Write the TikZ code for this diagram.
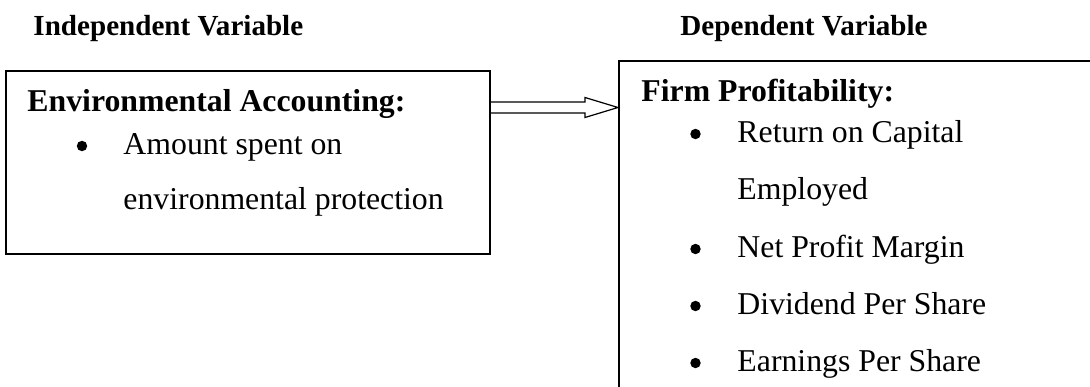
\documentclass[tikz,border=0pt]{standalone}
\usepackage{fontspec}
\setmainfont{Liberation Serif}
\usepackage{tikz}
\usetikzlibrary{positioning, calc}

\begin{document}
\begin{tikzpicture}[
    x=0.4124pt, y=-0.4124pt,
    varbox/.style={draw, line width=0.8pt, inner sep=0pt},
    head/.style={anchor=base west, inner sep=0pt, font=\fontsize{12}{14}\selectfont\bfseries},
    boxhead/.style={anchor=base west, inner sep=0pt, font=\fontsize{13.1}{15}\selectfont\bfseries},
    item/.style={anchor=base west, inner sep=0pt, font=\fontsize{13.1}{15}\selectfont},
    dot/.style={circle, fill, inner sep=0pt, minimum size=4.3pt}
    ]
    \useasboundingbox (0,0) rectangle (1090,387);
    \clip (0,0) rectangle (1090,387);

    % headings
    \node[head] (indep) at (33,36) {Independent Variable};
    \node[head] (dep) at (680,36) {Dependent Variable};

    % boxes
    \node[varbox, minimum width=199.6pt, minimum height=75.5pt] (envbox) at (248,162.5) {};
    \node[varbox, minimum width=198.4pt, minimum height=139.8pt] (profbox) at (859.5,230.5) {};

    % left box text
    \node[boxhead] (envhead) at (27,112) {Environmental Accounting:};
    \node[dot] (b1) at (82,146) {};
    \node[item] (amount1) at (123,155) {Amount spent on};
    \node[item] (amount2) at (123,210) {environmental protection};

    % right box text
    \node[boxhead] (profhead) at (641,102) {Firm Profitability:};
    \node[dot] (b2) at (695.5,134) {};
    \node[item] (roce1) at (737,143) {Return on Capital};
    \node[item] (roce2) at (737,200) {Employed};
    \node[dot] (b3) at (695.5,249) {};
    \node[item] (npm) at (737,258) {Net Profit Margin};
    \node[dot] (b4) at (695.5,306) {};
    \node[item] (dps) at (737,315) {Dividend Per Share};
    \node[dot] (b5) at (695.5,363) {};
    \node[item] (eps) at (737,372) {Earnings Per Share};

    % hollow arrow
    \coordinate (arrlevel) at (0,107.5);
    \coordinate (tail) at (envbox.east |- arrlevel);
    \coordinate (tip) at (profbox.west |- arrlevel);
    \draw[line width=0.5pt, line join=miter]
        ($(tail)+(0,-5.5)$) -- ($(tip)+(-33,-5.5)$) -- ($(tip)+(-33,-10)$) -- (tip)
        -- ($(tip)+(-33,10)$) -- ($(tip)+(-33,5.5)$) -- ($(tail)+(0,5.5)$);
\end{tikzpicture}
\end{document}
